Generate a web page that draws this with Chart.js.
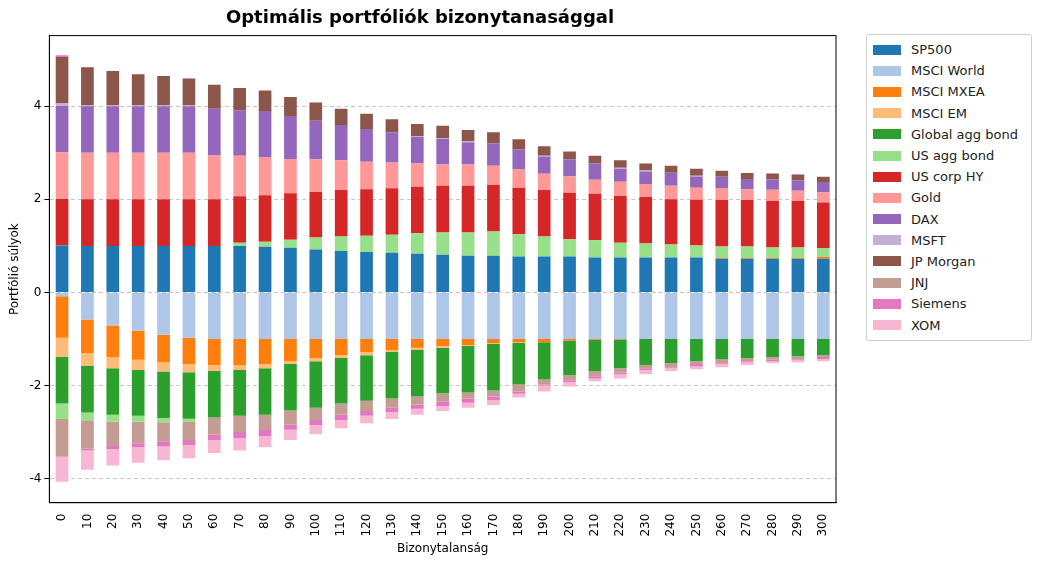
<!DOCTYPE html>
<html>
<head>
<meta charset="UTF-8">
<script src="https://cdn.jsdelivr.net/npm/chart.js"></script>
<style>
  body { margin: 0; background: #fff; font-family: "DejaVu Sans", sans-serif; }
  #wrap { position: relative; width: 1040px; height: 562px; }
  #box { position: absolute; left: 0; top: 0; width: 850px; height: 562px; }
  #legend { position: absolute; left: 866px; top: 34px; width: 164px; border: 1px solid #d0d0d0; border-radius: 3px; padding: 4px 0 4px 0; font-size: 13px; color: #222; }
  .item { display: flex; align-items: center; height: 21.2px; padding-left: 6px; }
  .sw { width: 28px; height: 10px; margin-right: 10px; }
</style>
</head>
<body>
<div id="wrap">
  <div id="box"><canvas id="c"></canvas></div>
  <div id="legend"></div>
</div>
<script>
const categories = [0,10,20,30,40,50,60,70,80,90,100,110,120,130,140,150,160,170,180,190,200,210,220,230,240,250,260,270,280,290,300];
const names = ['SP500','MSCI World','MSCI MXEA','MSCI EM','Global agg bond','US agg bond','US corp HY','Gold','DAX','MSFT','JP Morgan','JNJ','Siemens','XOM'];
const colors = ['#1f77b4','#aec7e8','#ff7f0e','#ffbb78','#2ca02c','#98df8a','#d62728','#ff9896','#9467bd','#c5b0d5','#8c564b','#c49c94','#e377c2','#f7b6d2'];

const sp500 = [1.01,1,1,1,1,1,1,1,0.98,0.96,0.92,0.89,0.87,0.85,0.83,0.81,0.79,0.79,0.77,0.77,0.77,0.75,0.75,0.75,0.75,0.75,0.725,0.725,0.725,0.725,0.725];
const msciWorld = [-0.08,-0.58,-0.71,-0.82,-0.91,-0.975,-1,-1,-1,-1,-1,-1,-1,-1,-1,-1,-1,-1,-1,-1,-1,-1,-1,-1,-1,-1,-1,-1,-1,-1,-1];
const msciMxea = [-0.895,-0.72,-0.68,-0.63,-0.59,-0.57,-0.56,-0.56,-0.54,-0.48,-0.41,-0.35,-0.28,-0.24,-0.19,-0.15,-0.13,-0.09,-0.07,-0.07,-0.04,-0.02,-0.01,0,0,0,0.02,0.02,0.02,0.02,0.04];
const msciEm = [-0.415,-0.28,-0.24,-0.22,-0.2,-0.17,-0.13,-0.11,-0.09,-0.06,-0.07,-0.06,-0.07,-0.04,-0.05,-0.04,-0.02,-0.02,-0.02,0,0,0,0,0,0,0,0,0,0,0,0];
const globalAgg = [-1,-1,-1,-0.98,-1,-1,-1,-0.98,-1,-1,-1,-0.98,-0.98,-1,-1,-0.98,-1,-1,-0.89,-0.8,-0.74,-0.67,-0.62,-0.56,-0.52,-0.48,-0.43,-0.41,-0.39,-0.37,-0.35];
const usAgg = [-0.33,-0.17,-0.15,-0.13,-0.09,-0.07,0,0.065,0.11,0.17,0.26,0.31,0.35,0.39,0.44,0.48,0.5,0.52,0.48,0.43,0.37,0.37,0.32,0.3,0.28,0.26,0.24,0.24,0.22,0.22,0.19];
const usHy = [1,1,1,1,1,1,1,1,1,1,0.98,1,1,1,1,1,1,1,1,1,1,1,1,1,0.97,0.98,1,1,1,1,0.98];
const gold = [1,1,1,1,1,1,0.945,0.87,0.81,0.74,0.7,0.64,0.59,0.55,0.5,0.46,0.46,0.41,0.39,0.35,0.35,0.3,0.31,0.28,0.29,0.26,0.26,0.23,0.24,0.22,0.22];
const dax = [1,1,1,1,1,1,1,0.98,1,0.92,0.83,0.76,0.7,0.65,0.57,0.55,0.48,0.48,0.43,0.37,0.37,0.35,0.28,0.27,0.28,0.24,0.24,0.22,0.22,0.22,0.22];
const msft = [0.05,0.02,0.02,0.02,0.02,0.02,0,0,0,0,0,0,0,0,0.02,0.02,0.02,0,0,0.02,0,0,0.02,0.02,0,0.02,0,0,0,0,0];
const jpMorgan = [1,0.82,0.74,0.67,0.63,0.58,0.52,0.48,0.44,0.41,0.39,0.35,0.33,0.28,0.26,0.26,0.24,0.24,0.22,0.2,0.17,0.17,0.16,0.15,0.15,0.15,0.13,0.13,0.13,0.13,0.11];
const jnj = [-0.81,-0.61,-0.52,-0.46,-0.41,-0.39,-0.37,-0.35,-0.33,-0.3,-0.26,-0.24,-0.22,-0.2,-0.17,-0.18,-0.13,-0.13,-0.15,-0.11,-0.11,-0.11,-0.09,-0.07,-0.09,-0.06,-0.09,-0.07,-0.06,-0.06,-0.04];
const siemens = [0.04,-0.04,-0.07,-0.09,-0.11,-0.11,-0.11,-0.13,-0.13,-0.11,-0.11,-0.11,-0.1,-0.09,-0.09,-0.09,-0.09,-0.07,-0.05,-0.02,-0.04,-0.05,-0.04,-0.04,-0.02,-0.05,-0.02,-0.02,-0.03,-0.02,-0.04];
const xom = [-0.54,-0.41,-0.35,-0.33,-0.3,-0.28,-0.28,-0.27,-0.24,-0.22,-0.2,-0.18,-0.16,-0.15,-0.13,-0.11,-0.11,-0.11,-0.08,-0.13,-0.09,-0.06,-0.09,-0.09,-0.06,-0.06,-0.07,-0.06,-0.04,-0.05,-0.05];
const yTicks = [-4,-2,0,2,4];

const series = [sp500,msciWorld,msciMxea,msciEm,globalAgg,usAgg,usHy,gold,dax,msft,jpMorgan,jnj,siemens,xom];

// legend, matplotlib style
const lg = document.getElementById('legend');
names.forEach((n, i) => {
  const d = document.createElement('div');
  d.className = 'item';
  d.innerHTML = '<span class="sw" style="background:' + colors[i] + '"></span>' + n;
  lg.appendChild(d);
});

Chart.defaults.font.family = '"DejaVu Sans", sans-serif';
Chart.defaults.color = '#222';
Chart.defaults.animation = false;

new Chart(document.getElementById('c'), {
  type: 'bar',
  data: {
    labels: categories.map(String),
    datasets: series.map((s, i) => ({
      label: names[i],
      data: s,
      backgroundColor: colors[i],
      borderWidth: 0,
      categoryPercentage: 1,
      barPercentage: 0.5
    }))
  },
  options: {
    responsive: true,
    maintainAspectRatio: false,
    layout: { padding: { left: 4, right: 14, top: 4, bottom: 4 } },
    plugins: {
      legend: { display: false },
      tooltip: { enabled: false },
      title: {
        display: true,
        text: 'Optimális portfóliók bizonytanasággal',
        font: { size: 18, weight: 'bold' },
        color: '#000',
        padding: { top: 4, bottom: 6 }
      }
    },
    scales: {
      x: {
        stacked: true,
        grid: { display: false, drawTicks: true },
        border: { color: '#000' },
        ticks: { minRotation: 90, maxRotation: 90, font: { size: 12 }, color: '#000' },
        title: { display: true, text: 'Bizonytalanság', font: { size: 12 }, color: '#000', padding: 2 }
      },
      y: {
        stacked: true,
        min: -4.52,
        max: 5.52,
        afterBuildTicks: ax => { ax.ticks = yTicks.map(v => ({ value: v })); },
        grid: { color: 'rgba(0,0,0,0.22)', tickColor: '#000', tickLength: 5 },
        border: { color: '#000', dash: [4, 3] },
        ticks: { font: { size: 12 }, color: '#000' },
        title: { display: true, text: 'Portfólió súlyok', font: { size: 12 }, color: '#000' }
      }
    }
  },
  plugins: [{
    id: 'frame',
    afterDraw(chart) {
      const a = chart.chartArea, ctx = chart.ctx;
      ctx.save();
      ctx.strokeStyle = '#000';
      ctx.lineWidth = 1;
      ctx.strokeRect(a.left, a.top, a.right - a.left, a.bottom - a.top);
      ctx.restore();
    }
  }]
});
</script>
</body>
</html>
